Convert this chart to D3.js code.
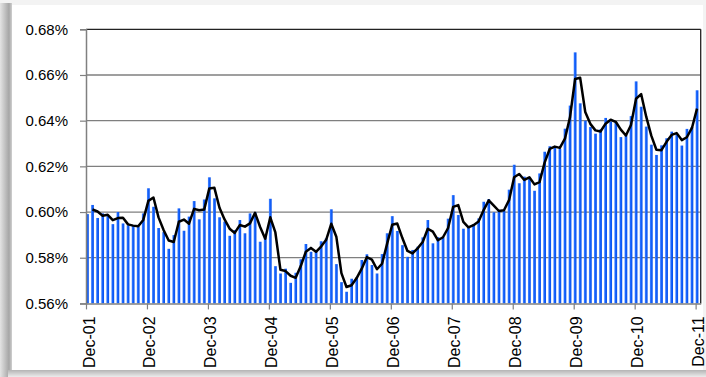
<!DOCTYPE html>
<html>
<head>
<meta charset="utf-8">
<script src="https://cdn.jsdelivr.net/npm/d3@7/dist/d3.min.js"></script>
<style>
  html, body { margin: 0; padding: 0; background: #fff; }
  svg { display: block; }
  text { font-family: "Liberation Sans", Arial, sans-serif; fill: #000; }
</style>
</head>
<body>
<svg id="chart" width="706" height="377"></svg>
<script>
// Monthly ratio (%) from Dec-01 to Dec-11
const values = [
  0.5991, 0.6031, 0.5974, 0.5994, 0.5982, 0.5947, 0.6000, 0.5950, 0.5942, 0.5939, 0.5937, 0.5994,
  0.6104, 0.6023, 0.5930, 0.5912, 0.5839, 0.5899, 0.6016, 0.5918, 0.5980, 0.6048, 0.5968, 0.6055,
  0.6152, 0.6060, 0.5977, 0.5958, 0.5896, 0.5921, 0.5965, 0.5907, 0.5994, 0.5999, 0.5870, 0.5896,
  0.6058, 0.5763, 0.5731, 0.5752, 0.5690, 0.5734, 0.5793, 0.5860, 0.5826, 0.5826, 0.5872, 0.5885,
  0.6012, 0.5772, 0.5693, 0.5651, 0.5708, 0.5714, 0.5790, 0.5815, 0.5768, 0.5731, 0.5816, 0.5907,
  0.5982, 0.5917, 0.5855, 0.5804, 0.5834, 0.5848, 0.5889, 0.5965, 0.5863, 0.5890, 0.5889, 0.5971,
  0.6074, 0.5987, 0.5927, 0.5939, 0.5946, 0.5972, 0.6045, 0.6057, 0.5999, 0.6010, 0.6006, 0.6098,
  0.6207, 0.6126, 0.6155, 0.6149, 0.6093, 0.6169, 0.6264, 0.6288, 0.6285, 0.6277, 0.6365, 0.6466,
  0.6699, 0.6476, 0.6400, 0.6372, 0.6343, 0.6362, 0.6412, 0.6396, 0.6394, 0.6328, 0.6342, 0.6420,
  0.6572, 0.6461, 0.6374, 0.6295, 0.6250, 0.6292, 0.6323, 0.6352, 0.6339, 0.6291, 0.6364, 0.6372,
  0.6533
];

// Year-end tick labels on the month axis (every 12th month)
const xTickLabels = ["Dec-01", "Dec-02", "Dec-03", "Dec-04", "Dec-05", "Dec-06",
                     "Dec-07", "Dec-08", "Dec-09", "Dec-10", "Dec-11"];
const xTickIndex = [0, 12, 24, 36, 48, 60, 72, 84, 96, 108, 120];

// Value axis ticks (%)
const yTicks = [0.56, 0.58, 0.60, 0.62, 0.64, 0.66, 0.68];

// 2-period moving average trendline
const maPeriod = 2;

const svg = d3.select("#chart");
const W = 706, H = 377;

const plot = { left: 86, right: 700.7, top: 29.3, bottom: 303.4 };
const n = values.length;
const barW = 2.8;

const x = d3.scaleLinear().domain([0, n]).range([plot.left, plot.right]);
const y = d3.scaleLinear().domain([0.56, 0.68]).range([plot.bottom, plot.top]);

// ----- frame -----
const defs = svg.append("defs");
const gLeft = defs.append("linearGradient").attr("id", "edgeLeft")
  .attr("x1", "0").attr("x2", "1").attr("y1", "0").attr("y2", "0");
gLeft.append("stop").attr("offset", "0").attr("stop-color", "#e4e4e4");
gLeft.append("stop").attr("offset", "0.75").attr("stop-color", "#a6a6a6");
gLeft.append("stop").attr("offset", "1").attr("stop-color", "#d0d0d0");

const gBottom = defs.append("linearGradient").attr("id", "edgeBottom")
  .attr("x1", "0").attr("x2", "0").attr("y1", "0").attr("y2", "1");
gBottom.append("stop").attr("offset", "0").attr("stop-color", "#b4b4b4");
gBottom.append("stop").attr("offset", "1").attr("stop-color", "#ececec");

const gBar = defs.append("linearGradient").attr("id", "barFill")
  .attr("x1", "0").attr("x2", "1").attr("y1", "0").attr("y2", "0");
gBar.append("stop").attr("offset", "0").attr("stop-color", "#5a92ff");
gBar.append("stop").attr("offset", "0.35").attr("stop-color", "#1966ff");
gBar.append("stop").attr("offset", "1").attr("stop-color", "#0650ea");

svg.append("rect").attr("x", 0).attr("y", 0).attr("width", W).attr("height", H).attr("fill", "#f3f3f3");
svg.append("rect").attr("x", 11).attr("y", 5).attr("width", W - 14).attr("height", H - 12).attr("fill", "#fff");
svg.append("rect").attr("x", 0).attr("y", 3).attr("width", 12).attr("height", H - 3).attr("fill", "url(#edgeLeft)");
svg.append("rect").attr("x", 8).attr("y", H - 7).attr("width", W - 8).attr("height", 7).attr("fill", "url(#edgeBottom)");

// ----- gridlines -----
svg.append("g")
  .selectAll("line")
  .data(yTicks.slice(1))
  .join("line")
  .attr("x1", plot.left).attr("x2", plot.right)
  .attr("y1", d => y(d)).attr("y2", d => y(d))
  .attr("stroke", d => d === 0.68 ? "#222" : "#7f7f7f")
  .attr("stroke-width", 1.3);

// ----- bars -----
svg.append("g")
  .selectAll("rect")
  .data(values)
  .join("rect")
  .attr("x", (d, i) => x(i))
  .attr("y", d => y(d))
  .attr("width", barW)
  .attr("height", d => y(0.56) - y(d))
  .attr("fill", "url(#barFill)");

// ----- right border of plot area -----
svg.append("line")
  .attr("x1", plot.right).attr("x2", plot.right)
  .attr("y1", plot.top).attr("y2", plot.bottom)
  .attr("stroke", "#222").attr("stroke-width", 1.3);

// ----- moving-average trendline -----
const ma = values.map((v, i) => i < maPeriod - 1 ? null
  : d3.mean(values.slice(i - maPeriod + 1, i + 1)));
const line = d3.line()
  .defined(d => d !== null)
  .x((d, i) => x(i) + barW / 2)
  .y(d => y(d));
svg.append("path")
  .datum(ma)
  .attr("d", line)
  .attr("fill", "none")
  .attr("stroke", "#000")
  .attr("stroke-width", 2.5)
  .attr("stroke-linejoin", "round");

// ----- axes -----
const yAxis = d3.axisLeft(y)
  .tickValues(yTicks)
  .tickSize(6)
  .tickPadding(12)
  .tickFormat(d => d.toFixed(2) + "%");
const gy = svg.append("g").attr("transform", `translate(${plot.left},0)`).call(yAxis);
gy.select(".domain").attr("stroke", "#808080").attr("stroke-width", 1.5);
gy.selectAll(".tick line").attr("stroke", "#808080").attr("stroke-width", 1.2);
gy.selectAll(".tick text").attr("font-size", 15).attr("font-family", "Liberation Sans, Arial, sans-serif");

const xAxis = d3.axisBottom(x)
  .tickValues(xTickIndex)
  .tickSize(6)
  .tickSizeOuter(0)
  .tickFormat((d, i) => xTickLabels[i]);
const gx = svg.append("g").attr("transform", `translate(0,${plot.bottom})`).call(xAxis);
gx.select(".domain").attr("stroke", "#808080").attr("stroke-width", 1.5);
gx.selectAll(".tick line").attr("stroke", "#808080").attr("stroke-width", 1.2);
gx.selectAll(".tick text")
  .attr("font-size", 16)
  .attr("font-family", "Liberation Sans, Arial, sans-serif")
  .attr("text-anchor", "end")
  .attr("dy", null)
  .attr("y", 0)
  .attr("transform", "translate(2.5,13) rotate(-90)")
  .attr("dominant-baseline", "central");
</script>
</body>
</html>
